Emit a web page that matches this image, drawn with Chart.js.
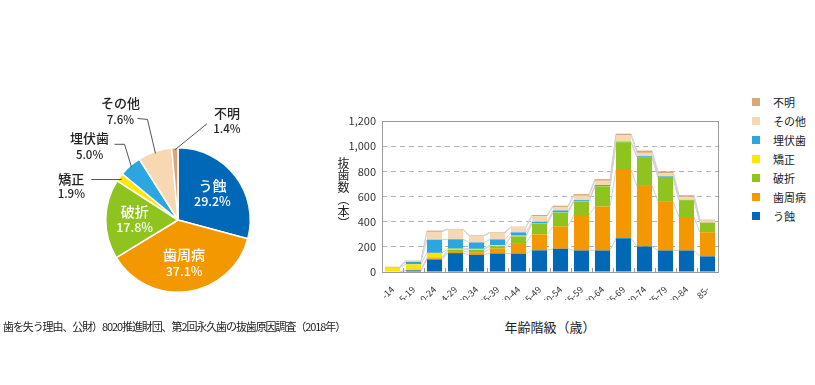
<!DOCTYPE html>
<html>
<head>
<meta charset="utf-8">
<script src="https://cdn.jsdelivr.net/npm/chart.js@4"></script>
<style>
  body { margin:0; width:815px; height:385px; background:#fff; position:relative; overflow:hidden;
         font-family:"Noto Sans CJK JP", "Noto Sans", sans-serif; color:#222; }
  #pieBox { position:absolute; left:28px; top:70px; width:300px; height:300px; }
  #barBox { position:absolute; left:330px; top:100px; width:400px; height:200px; }
  #ytitle { position:absolute; left:335px; top:157px; writing-mode:vertical-rl; font-size:12px; }
  #xtitle { position:absolute; left:490px; top:317px; width:120px; text-align:center; font-size:13px; }
  #note { position:absolute; left:3px; top:318px; font-size:11px; letter-spacing:-1.1px; }
  #legend { position:absolute; left:752px; top:92px; font-size:11px; }
  #legend div { height:19px; line-height:16px; display:flex; align-items:center; }
  #legend span.sw { display:inline-block; width:8px; height:8px; margin-right:13px; }
</style>
</head>
<body>
<div id="pieBox"><canvas id="pie"></canvas></div>
<div id="barBox"><canvas id="bar"></canvas></div>
<div id="ytitle">抜歯数（本）</div>
<div id="xtitle">年齢階級（歳）</div>
<div id="note">歯を失う理由、公財）8020推進財団、第2回永久歯の抜歯原因調査（2018年）</div>
<div id="legend"></div>
<script>
// causes (bottom of stack first)
const causes = ["う蝕", "歯周病", "破折", "矯正", "埋伏歯", "その他", "不明"];
const colors = ["#0068b7", "#f39800", "#8fc31f", "#ffe600", "#2ca6e0", "#f7d8b2", "#d8a878"];
const sharePct = [29.2, 37.1, 17.8, 1.9, 5.0, 7.6, 1.4];

const ageGroups = ["-14", "15-19", "20-24", "24-29", "30-34", "35-39", "40-44", "45-49",
                   "50-54", "55-59", "60-64", "65-69", "70-74", "75-79", "80-84", "85-"];
const caries     = [0, 13, 100, 150, 136, 147, 146, 172, 185, 171, 171, 268, 203, 171, 171, 124];
const perio      = [0, 2, 8, 16, 21, 40, 84, 127, 178, 282, 350, 542, 481, 392, 266, 192];
const fracture   = [0, 2, 7, 11, 19, 18, 53, 84, 108, 108, 160, 221, 229, 192, 134, 76];
const ortho      = [36, 44, 37, 8, 8, 8, 6, 2, 2, 2, 2, 0, 0, 0, 0, 0];
const impacted   = [4, 20, 105, 75, 51, 46, 26, 14, 16, 8, 8, 5, 7, 5, 2, 1];
const other      = [3, 8, 62, 77, 53, 53, 40, 44, 28, 35, 34, 50, 27, 24, 24, 16];
const unknown    = [0, 3, 10, 5, 5, 5, 5, 10, 10, 13, 13, 13, 18, 16, 13, 7];
const series = [caries, perio, fracture, ortho, impacted, other, unknown];
const yTicks = [0, 200, 400, 600, 800, 1000, 1200];

const FONT = '"Noto Sans CJK JP", "Noto Sans", sans-serif';

// legend (top = last cause)
const lg = document.getElementById('legend');
causes.slice().reverse().forEach((c, k) => {
  const i = causes.length - 1 - k;
  lg.insertAdjacentHTML('beforeend', `<div><span class="sw" style="background:${colors[i]}"></span>${c}</div>`);
});

// pie callouts for the small slices: elbow offset from edge, end offset from elbow, text offset from end
const callouts = {
  3: { elbow: [0, 1], end: [-30, 0], text: [-20, 0], gap: 14 },
  4: { elbow: [-7, -23], end: [-10, 0], text: [-25, -6], gap: 16 },
  5: { elbow: [-8, -34], end: [-10, -1], text: [-17, -15], gap: 16 },
  6: { elbow: [32, -26], end: [0, 0], text: [20, -11], gap: 16 }
};

const pieLabels = {
  id: 'pieLabels',
  afterDatasetsDraw(chart) {
    const ctx = chart.ctx;
    ctx.save();
    ctx.textAlign = 'center';
    ctx.textBaseline = 'middle';
    chart.getDatasetMeta(0).data.forEach((arc, i) => {
      const mid = (arc.startAngle + arc.endAngle) / 2;
      const R = arc.outerRadius;
      const cos = Math.cos(mid), sin = Math.sin(mid);
      const pct = sharePct[i].toFixed(1) + '%';
      const c = callouts[i];
      if (!c) {
        const r = R * 0.6;
        const x = arc.x + cos * r, y = arc.y + sin * r;
        ctx.fillStyle = '#fff';
        ctx.font = '500 14px ' + FONT;
        ctx.fillText(causes[i], x, y - 8);
        ctx.font = '500 12.5px ' + FONT;
        ctx.fillText(pct, x, y + 8);
      } else {
        const ex = arc.x + cos * (R - 2), ey = arc.y + sin * (R - 2);
        const bx = ex + c.elbow[0], by = ey + c.elbow[1];
        const tx = bx + c.end[0], ty = by + c.end[1];
        ctx.strokeStyle = '#555';
        ctx.lineWidth = 1;
        ctx.beginPath();
        ctx.moveTo(ex, ey); ctx.lineTo(bx, by); ctx.lineTo(tx, ty);
        ctx.stroke();
        const lx = tx + c.text[0], ly = ty + c.text[1];
        ctx.fillStyle = '#222';
        ctx.font = '500 13px ' + FONT;
        ctx.fillText(causes[i], lx, ly);
        ctx.font = '500 11.5px ' + FONT;
        ctx.fillText(pct, lx, ly + c.gap);
      }
    });
    ctx.restore();
  }
};

new Chart('pie', {
  type: 'pie',
  data: {
    labels: causes,
    datasets: [{ data: sharePct, backgroundColor: colors, borderColor: '#fff', borderWidth: 1.5 }]
  },
  options: {
    responsive: true, maintainAspectRatio: false, animation: false,
    layout: { padding: 77 },
    plugins: { legend: { display: false }, tooltip: { enabled: false } }
  },
  plugins: [pieLabels]
});

// thin connector lines between matching stack segments
const seriesLines = {
  id: 'seriesLines',
  beforeDatasetsDraw(chart) {
    const ctx = chart.ctx;
    ctx.save();
    ctx.strokeStyle = '#d2d2d2';
    ctx.lineWidth = 1;
    chart.data.datasets.forEach((ds, di) => {
      const bars = chart.getDatasetMeta(di).data;
      ctx.beginPath();
      for (let i = 0; i < bars.length - 1; i++) {
        const a = bars[i], b = bars[i + 1];
        ctx.moveTo(a.x + a.width / 2, a.y);
        ctx.lineTo(b.x - b.width / 2, b.y);
      }
      ctx.stroke();
    });
    ctx.restore();
  }
};

// plot frame + small inner ticks between categories
const frame = {
  id: 'frame',
  afterDraw(chart) {
    const a = chart.chartArea, ctx = chart.ctx, xs = chart.scales.x;
    ctx.save();
    ctx.strokeStyle = '#9a9a9a';
    ctx.lineWidth = 1;
    ctx.strokeRect(Math.round(a.left) + 0.5, Math.round(a.top) + 0.5,
                   Math.round(a.right - a.left), Math.round(a.bottom - a.top));
    ctx.beginPath();
    for (let i = 0; i < ageGroups.length - 1; i++) {
      const x = Math.round((xs.getPixelForTick(i) + xs.getPixelForTick(i + 1)) / 2) + 0.5;
      ctx.moveTo(x, a.bottom);
      ctx.lineTo(x, a.bottom - 4);
    }
    ctx.stroke();
    ctx.restore();
  }
};

new Chart('bar', {
  type: 'bar',
  data: {
    labels: ageGroups,
    datasets: series.map((d, i) => ({
      label: causes[i], data: d, backgroundColor: colors[i],
      barPercentage: 0.72, categoryPercentage: 1
    }))
  },
  options: {
    responsive: true, maintainAspectRatio: false, animation: false,
    layout: { padding: { top: 21, right: 12, left: 0, bottom: 0 } },
    plugins: { legend: { display: false }, tooltip: { enabled: false } },
    scales: {
      x: {
        stacked: true,
        grid: { display: false },
        border: { display: false },
        ticks: { font: { size: 9, family: FONT }, color: '#333', minRotation: 45, maxRotation: 45, padding: 4, autoSkip: false },
        afterFit(s) { s.height = 28; }
      },
      y: {
        stacked: true, min: 0, max: 1200,
        afterBuildTicks(s) { s.ticks = yTicks.map(v => ({ value: v })); },
        grid: { color: '#b0b0b0', drawTicks: false, lineWidth: 1 },
        border: { display: false, dash: [5, 4] },
        ticks: { font: { size: 11, family: FONT }, color: '#333', padding: 6,
                 callback: v => v.toLocaleString('en-US') },
        afterFit(s) { s.width = 52; }
      }
    }
  },
  plugins: [seriesLines, frame]
});
</script>
</body>
</html>
